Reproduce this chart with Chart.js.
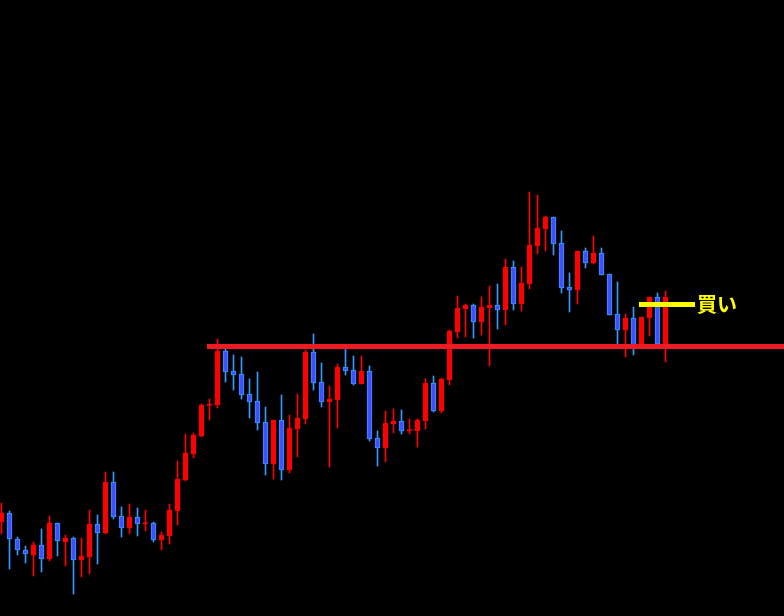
<!DOCTYPE html>
<html>
<head>
<meta charset="utf-8">
<script src="https://cdn.jsdelivr.net/npm/chart.js@4/dist/chart.umd.min.js"></script>
<style>
html,body{margin:0;padding:0;background:#000;}
canvas{display:block;}
</style>
</head>
<body>
<canvas id="c" width="784" height="616"></canvas>
<script>
// Price values (arbitrary price units), one entry per candle, oldest first
const opens  = [94,103,77,66,61,71,57,93,74,78,56,59,92,83,134,100,88,99,92,93,76,80,105,136,162,180,210.5,211,265,245,242,222,215,194,152,196,146,187,197,264,234,214.3,216,249,246,232,245,178,168,192.3,195,185,185,195,233,205,236,284,307,311,294,308.3,311,306,349,312,332,370,387,399,373,329,326,365,353,363,342,302,286,298,270,298,319,270];
const highs  = [113,105,79,70,74,87,100,93,81,79,78,106,101,144,144,109,112,108,106,94,84,112,155,182,183,212,217,277,267,261,259,237,244,209,196,221,201,222,266,282,253,230,252,267,260,260,250,185,205,207,206,197,197,237,240,238,286,320,312,312,319,330,332,357,355,349,424,421,400,399,385,343,365,368,380,368,342,334,302,309,299,319,323,325];
const lows   = [82,47,61,53,40,44,55,60,50,22,39,42,52,82,97,79,82,80,85,74,66,72,91,135,158,179,196,208,234,226,217,198,186,141,137,136,143,159,192,226,209,149,188,241,231,232,175,150,154,183,182,182,169,187,204,203,231,278,279,278,281,250,287,291,306,305,327,362,365,361,323,304,312,348,352,341,301,271,259,261,270,280,271,254];
const closes = [103,77,66,62,71,57,93,75,78,56,60,92,83,134,99,88,99,92,93.5,76,81,106,137,163,181,211,212,265,244,241,221,214,193,152,196,146,188,198,264,233,214,217,249,245,232,245,177,168,193,195,185,186.3,196,233,205,237,285,308,311,294,309,311,306,349,312,333,371,388,399,372,328,326,365,353,363,341,301,286,298,271,299,319,272,319];
// Horizontal levels
const resistanceLevel = 269.5;
const resistanceStart = 25.6875;
const buyLevel = 311.5;
const buyStart = 79.6875;
const buyEnd = 86.6875;
const buyLabel = '買い';

const UP = '#FF0000', DOWN_FILL = '#4050FF', DOWN_EDGE = '#3399FF';
const idx = opens.map((_, i) => i);
const isUp = idx.map(i => closes[i] >= opens[i]);

const xMin = -0.1875, xMax = xMin + 98;

const labelPlugin = {
  id: 'buyLabel',
  afterDatasetsDraw(chart) {
    const {ctx, scales: {x, y}} = chart;
    ctx.save();
    ctx.font = 'bold 20px "Noto Sans CJK JP"';
    ctx.fillStyle = '#FFFF00';
    ctx.textBaseline = 'middle';
    ctx.textAlign = 'left';
    ctx.fillText(buyLabel, x.getPixelForValue(buyEnd) + 2, y.getPixelForValue(buyLevel) - 0.5);
    ctx.restore();
  }
};

new Chart(document.getElementById('c'), {
  type: 'bar',
  data: {
    datasets: [
      {
        type: 'line',
        order: 0,
        data: [{x: resistanceStart, y: resistanceLevel}, {x: xMax, y: resistanceLevel}],
        borderColor: '#ED1C24',
        borderWidth: 5,
        pointRadius: 0,
        borderCapStyle: 'butt'
      },
      {
        type: 'line',
        order: 0,
        data: [{x: buyStart, y: buyLevel}, {x: buyEnd, y: buyLevel}],
        borderColor: '#FFFF00',
        borderWidth: 5,
        pointRadius: 0,
        borderCapStyle: 'butt'
      },
      {
        order: 1,
        grouped: false,
        data: idx.map(i => ({x: i, y: [opens[i], closes[i]]})),
        backgroundColor: idx.map(i => isUp[i] ? UP : DOWN_FILL),
        borderColor: idx.map(i => isUp[i] ? UP : DOWN_EDGE),
        borderWidth: 1,
        borderSkipped: false,
        barThickness: 5
      },
      {
        order: 2,
        grouped: false,
        data: idx.map(i => ({x: i, y: [lows[i], highs[i]]})),
        backgroundColor: idx.map(i => isUp[i] ? UP : DOWN_EDGE),
        borderWidth: 0,
        barThickness: 1
      }
    ]
  },
  options: {
    responsive: false,
    devicePixelRatio: 1,
    animation: false,
    layout: {padding: 0},
    plugins: {legend: {display: false}, tooltip: {enabled: false}},
    scales: {
      x: {type: 'linear', min: xMin, max: xMax, offset: false, display: false},
      y: {type: 'linear', min: 0, max: 616, display: false}
    }
  },
  plugins: [labelPlugin]
});
</script>
</body>
</html>
